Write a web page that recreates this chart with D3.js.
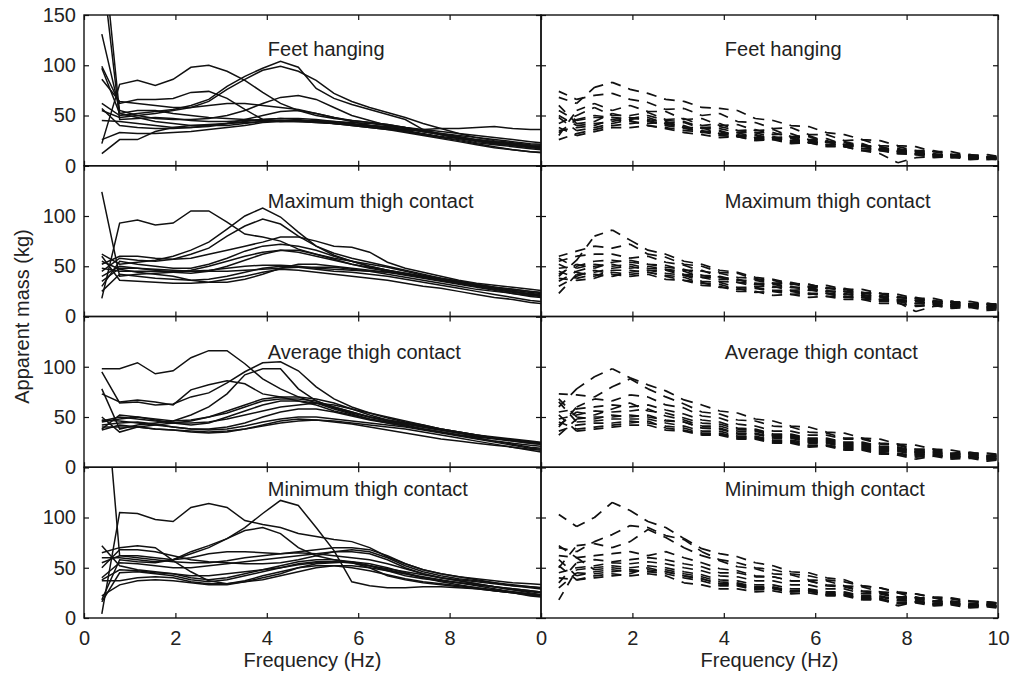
<!DOCTYPE html>
<html>
<head>
<meta charset="utf-8">
<script src="https://cdn.jsdelivr.net/npm/d3@7"></script>
<style>
  body { margin: 0; background: #fff; }
  text { font-family: "Liberation Sans", Arial, Helvetica, sans-serif; fill: #222; }
</style>
</head>
<body>
<script>
// frequency points (Hz), step 100/256
const freq = [0.39, 0.78, 1.17, 1.56, 1.95, 2.34, 2.73, 3.13, 3.52, 3.91, 4.30, 4.69, 5.08,
              5.47, 5.86, 6.25, 6.64, 7.03, 7.42, 7.81, 8.20, 8.59, 8.98, 9.38, 9.77, 10.16];

const conditions = ["Feet hanging", "Maximum thigh contact", "Average thigh contact", "Minimum thigh contact"];
const xTicks = [0, 2, 4, 6, 8, 10];
const yTicks = [0, 50, 100, 150];

// left column, solid lines (kg)
const feetSolid = [
  [230, 52, 55, 55, 52, 50, 48, 47, 46, 45, 44, 44, 43, 42, 41, 40, 38, 36, 34, 32, 30, 28, 26, 24, 22, 21],
  [200, 46, 47, 48, 47, 45, 44, 44, 45, 46, 47, 47, 46, 44, 42, 40, 38, 35, 32, 29, 27, 25, 23, 21, 19, 18],
  [22, 81, 85, 80, 86, 98, 100, 94, 85, 73, 62, 55, 50, 47, 45, 43, 41, 38, 34, 31, 28, 26, 24, 22, 20, 19],
  [62, 50, 52, 54, 56, 60, 66, 79, 89, 97, 104, 98, 77, 67, 61, 56, 51, 46, 36, 31, 27, 24, 22, 21, 19, 18],
  [55, 48, 50, 52, 55, 58, 64, 76, 86, 95, 99, 94, 85, 72, 64, 58, 53, 48, 42, 37, 32, 28, 25, 23, 21, 20],
  [99, 62, 66, 66, 67, 73, 74, 67, 56, 46, 44, 44, 45, 44, 43, 42, 40, 38, 35, 32, 29, 26, 24, 22, 20, 18],
  [86, 64, 62, 60, 58, 58, 60, 62, 62, 60, 58, 56, 52, 48, 45, 43, 41, 38, 36, 34, 32, 30, 28, 26, 24, 22],
  [131, 55, 50, 47, 46, 46, 47, 50, 55, 62, 68, 70, 66, 58, 50, 45, 40, 37, 34, 31, 28, 25, 23, 21, 19, 17],
  [26, 33, 32, 32, 33, 34, 36, 38, 40, 43, 44, 45, 44, 42, 40, 38, 36, 35, 36, 37, 37, 38, 39, 37, 36, 36],
  [12, 26, 26, 34, 38, 40, 41, 42, 43, 44, 45, 45, 44, 43, 41, 39, 37, 34, 31, 28, 25, 22, 19, 16, 14, 12],
  [57, 40, 38, 37, 37, 38, 40, 42, 44, 46, 47, 46, 44, 42, 40, 38, 36, 33, 30, 27, 24, 21, 18, 16, 14, 13],
  [45, 44, 42, 40, 38, 38, 39, 42, 46, 50, 54, 55, 52, 48, 44, 40, 37, 34, 31, 28, 26, 23, 21, 19, 17, 15],
  [97, 52, 48, 44, 42, 40, 40, 40, 42, 44, 45, 44, 43, 42, 41, 40, 39, 37, 34, 31, 28, 25, 22, 20, 18, 16]
];
const maxThighSolid = [
  [124, 40, 42, 43, 44, 46, 50, 55, 60, 64, 66, 64, 60, 56, 52, 49, 46, 43, 40, 37, 34, 31, 28, 25, 22, 20],
  [18, 93, 96, 91, 93, 105, 105, 94, 82, 79, 75, 67, 62, 58, 55, 52, 49, 45, 41, 38, 35, 32, 29, 26, 24, 22],
  [62, 52, 54, 56, 60, 66, 74, 87, 100, 108, 99, 84, 70, 61, 55, 50, 46, 42, 39, 36, 33, 30, 27, 24, 22, 20],
  [45, 58, 56, 55, 57, 62, 68, 80, 90, 97, 92, 80, 70, 63, 58, 54, 50, 46, 42, 38, 35, 32, 29, 27, 25, 23],
  [52, 60, 60, 58, 57, 58, 62, 66, 70, 74, 79, 79, 75, 70, 69, 64, 54, 48, 44, 40, 36, 33, 31, 29, 27, 25],
  [30, 55, 52, 50, 48, 48, 52, 58, 65, 70, 72, 70, 66, 60, 55, 50, 46, 43, 40, 37, 34, 31, 29, 27, 25, 23],
  [40, 50, 48, 46, 44, 43, 45, 50, 56, 62, 66, 66, 62, 57, 52, 48, 45, 42, 39, 36, 33, 30, 27, 25, 22, 20],
  [35, 48, 48, 47, 46, 45, 46, 48, 50, 51, 51, 50, 48, 47, 46, 45, 44, 41, 38, 35, 32, 29, 26, 23, 20, 18],
  [55, 47, 44, 42, 40, 36, 34, 34, 37, 42, 48, 52, 52, 50, 48, 46, 44, 42, 39, 36, 33, 30, 27, 25, 23, 21],
  [25, 42, 40, 38, 37, 36, 37, 40, 44, 48, 50, 49, 47, 45, 44, 42, 40, 37, 34, 31, 28, 25, 22, 19, 16, 14],
  [60, 36, 35, 34, 33, 33, 34, 37, 40, 44, 47, 46, 44, 42, 40, 38, 36, 33, 30, 28, 25, 22, 19, 17, 14, 12],
  [48, 45, 45, 45, 45, 45, 45, 45, 46, 47, 48, 49, 49, 49, 47, 45, 42, 39, 36, 33, 30, 27, 25, 23, 21, 19]
];
const avgThighSolid = [
  [98, 98, 104, 93, 96, 109, 116, 116, 103, 88, 78, 70, 64, 58, 53, 48, 44, 41, 38, 35, 32, 30, 28, 26, 24, 22],
  [95, 64, 65, 62, 63, 70, 74, 84, 95, 104, 105, 96, 80, 68, 60, 54, 49, 45, 42, 38, 35, 32, 29, 26, 24, 22],
  [78, 38, 42, 44, 46, 52, 60, 73, 92, 98, 98, 78, 66, 59, 54, 50, 46, 43, 40, 37, 34, 31, 29, 27, 25, 23],
  [73, 65, 67, 65, 62, 77, 82, 86, 83, 73, 70, 66, 62, 56, 52, 48, 45, 42, 38, 35, 32, 29, 26, 23, 20, 18],
  [50, 35, 40, 42, 44, 46, 50, 56, 62, 68, 70, 70, 68, 64, 58, 52, 47, 44, 40, 37, 34, 31, 29, 27, 25, 23],
  [45, 48, 50, 48, 46, 47, 50, 54, 60, 66, 68, 68, 66, 60, 55, 50, 47, 44, 41, 38, 35, 32, 30, 28, 26, 24],
  [38, 52, 50, 47, 44, 42, 44, 50, 56, 62, 66, 66, 64, 60, 55, 50, 46, 43, 40, 37, 34, 31, 29, 27, 25, 23],
  [42, 44, 45, 43, 40, 38, 38, 40, 44, 50, 55, 58, 58, 55, 51, 47, 44, 41, 38, 35, 32, 29, 26, 24, 22, 20],
  [47, 46, 44, 42, 40, 38, 37, 38, 41, 45, 48, 50, 50, 48, 46, 44, 42, 40, 37, 34, 31, 28, 25, 22, 19, 17],
  [40, 40, 40, 38, 37, 35, 34, 35, 38, 42, 46, 48, 47, 45, 43, 40, 37, 34, 31, 28, 26, 24, 22, 20, 18, 16],
  [37, 42, 40, 38, 37, 36, 35, 36, 38, 41, 44, 46, 47, 46, 44, 42, 40, 38, 35, 32, 29, 26, 23, 20, 17, 14],
  [46, 50, 48, 46, 44, 44, 45, 48, 52, 56, 60, 62, 64, 62, 58, 54, 50, 46, 42, 38, 35, 32, 29, 27, 25, 23]
];
const minThighSolid = [
  [270, 62, 60, 58, 56, 55, 55, 57, 60, 62, 64, 65, 64, 62, 60, 58, 54, 49, 44, 40, 37, 34, 31, 28, 25, 22],
  [4, 105, 104, 98, 96, 110, 114, 110, 97, 93, 90, 84, 81, 78, 76, 70, 61, 54, 48, 44, 41, 38, 35, 32, 30, 28],
  [18, 58, 56, 55, 58, 64, 70, 79, 90, 104, 117, 112, 90, 67, 36, 32, 30, 30, 31, 31, 30, 29, 27, 25, 23, 22],
  [60, 60, 58, 56, 58, 66, 72, 79, 87, 90, 84, 70, 62, 58, 55, 52, 49, 46, 43, 40, 37, 34, 31, 28, 26, 24],
  [65, 70, 72, 70, 57, 46, 37, 34, 36, 38, 42, 46, 50, 52, 52, 50, 47, 44, 41, 38, 35, 32, 29, 26, 24, 22],
  [50, 68, 68, 66, 62, 58, 56, 55, 54, 54, 55, 58, 62, 66, 68, 66, 60, 52, 46, 42, 39, 37, 35, 33, 31, 29],
  [55, 62, 62, 60, 58, 60, 64, 66, 66, 65, 64, 66, 68, 70, 70, 68, 62, 54, 48, 44, 41, 39, 37, 35, 34, 33],
  [40, 55, 54, 52, 50, 50, 52, 54, 56, 58, 60, 62, 64, 66, 66, 64, 58, 50, 44, 40, 38, 36, 34, 32, 31, 30],
  [38, 48, 47, 45, 44, 40, 38, 40, 44, 48, 52, 56, 58, 58, 56, 52, 47, 42, 39, 37, 35, 33, 31, 29, 27, 25],
  [16, 45, 46, 44, 42, 38, 36, 38, 42, 46, 50, 54, 56, 56, 55, 52, 48, 44, 40, 37, 35, 33, 31, 29, 27, 25],
  [37, 37, 40, 41, 40, 36, 34, 34, 37, 42, 46, 50, 52, 52, 50, 47, 43, 39, 36, 34, 32, 30, 28, 26, 24, 22],
  [22, 33, 37, 38, 37, 35, 33, 33, 36, 40, 44, 50, 54, 55, 56, 54, 50, 45, 40, 36, 33, 30, 27, 25, 22, 20],
  [72, 52, 48, 46, 44, 42, 42, 44, 46, 48, 50, 53, 55, 56, 55, 50, 42, 38, 35, 33, 31, 29, 27, 25, 23, 21]
];

// right column, dashed lines (kg)
const feetDashed = [
  [68, 62, 78, 83, 76, 72, 66, 64, 58, 57, 55, 47, 45, 40, 39, 33, 31, 26, 25, 20, 19, 14, 14, 10, 11, 8],
  [74, 66, 70, 72, 66, 63, 56, 57, 50, 52, 44, 43, 37, 38, 31, 31, 25, 26, 20, 19, 15, 15, 11, 11, 8, 9],
  [30, 55, 62, 55, 60, 54, 54, 46, 47, 40, 41, 35, 36, 29, 30, 24, 23, 19, 19, 15, 15, 11, 11, 8, 9, 6],
  [42, 50, 58, 50, 50, 53, 46, 47, 40, 42, 35, 36, 31, 32, 26, 27, 21, 22, 16, 16, 12, 11, 8, 9, 6, 7],
  [55, 45, 48, 48, 47, 50, 45, 44, 38, 39, 35, 33, 33, 28, 29, 23, 24, 20, 19, 14, 14, 11, 11, 8, 9, 6],
  [60, 42, 44, 52, 48, 46, 43, 43, 37, 37, 33, 33, 28, 29, 25, 25, 20, 20, 16, 14, 12, 10, 10, 7, 8, 6],
  [35, 38, 40, 46, 44, 42, 44, 38, 38, 32, 33, 28, 29, 25, 25, 21, 21, 17, 16, 12, 11, 8, 9, 6, 7, 5],
  [48, 35, 38, 42, 46, 48, 42, 40, 34, 35, 30, 31, 27, 28, 23, 24, 19, 20, 15, 15, 11, 12, 9, 9, 7, 7],
  [26, 32, 36, 40, 42, 44, 40, 37, 35, 31, 31, 27, 27, 23, 23, 19, 19, 15, 15, 12, 12, 9, 10, 7, 8, 6],
  [38, 30, 34, 38, 38, 40, 38, 35, 34, 30, 29, 25, 26, 22, 23, 20, 19, 15, 12, 3, 8, 9, 8, 8, 7, 7],
  [50, 40, 42, 44, 48, 45, 41, 39, 33, 34, 29, 30, 26, 27, 23, 24, 20, 21, 17, 17, 14, 14, 11, 11, 9, 9],
  [33, 46, 50, 48, 45, 40, 37, 33, 31, 28, 29, 26, 27, 24, 24, 21, 21, 17, 17, 13, 13, 10, 11, 8, 9, 7]
];
const maxThighDashed = [
  [40, 56, 80, 86, 76, 66, 62, 55, 52, 46, 44, 39, 37, 33, 32, 28, 27, 23, 23, 19, 18, 15, 15, 12, 12, 10],
  [60, 65, 70, 68, 72, 62, 59, 52, 50, 44, 43, 37, 36, 32, 32, 28, 28, 24, 23, 19, 19, 15, 15, 12, 13, 10],
  [55, 60, 62, 62, 58, 60, 54, 51, 45, 43, 39, 38, 33, 33, 29, 29, 25, 24, 20, 20, 16, 16, 12, 13, 10, 11],
  [48, 50, 55, 56, 54, 52, 51, 46, 46, 39, 37, 32, 32, 29, 28, 25, 25, 21, 20, 16, 16, 13, 14, 11, 12, 9],
  [35, 45, 50, 52, 48, 50, 47, 45, 39, 39, 34, 33, 29, 30, 26, 26, 22, 22, 17, 17, 13, 14, 11, 12, 9, 10],
  [23, 42, 44, 48, 50, 46, 46, 41, 39, 35, 34, 30, 30, 26, 27, 23, 23, 19, 19, 15, 15, 12, 13, 10, 11, 8],
  [45, 38, 42, 40, 44, 46, 43, 41, 35, 34, 29, 29, 26, 26, 23, 23, 20, 20, 16, 16, 13, 14, 10, 11, 8, 9],
  [52, 44, 40, 46, 46, 44, 41, 39, 33, 32, 27, 28, 25, 25, 22, 23, 19, 19, 15, 15, 11, 12, 9, 10, 7, 8],
  [38, 36, 38, 44, 42, 44, 40, 36, 34, 29, 28, 24, 25, 22, 23, 20, 20, 17, 17, 14, 5, 10, 11, 10, 9, 8],
  [30, 40, 46, 42, 40, 42, 37, 36, 31, 30, 25, 25, 21, 22, 19, 20, 17, 17, 13, 13, 10, 11, 8, 9, 6, 7],
  [58, 48, 52, 50, 52, 48, 47, 42, 41, 37, 37, 33, 33, 29, 29, 25, 25, 21, 21, 17, 18, 14, 15, 12, 13, 11],
  [42, 52, 48, 54, 56, 52, 49, 47, 41, 40, 36, 36, 33, 34, 30, 31, 27, 27, 23, 22, 18, 18, 14, 15, 12, 13]
];
const avgThighDashed = [
  [60, 78, 90, 98, 89, 82, 76, 67, 62, 56, 54, 48, 46, 41, 40, 35, 34, 29, 28, 23, 22, 18, 17, 14, 14, 12],
  [73, 72, 70, 80, 88, 78, 70, 63, 55, 53, 47, 46, 41, 40, 35, 34, 29, 29, 24, 23, 18, 18, 14, 15, 12, 13],
  [40, 60, 68, 66, 72, 70, 62, 59, 51, 49, 43, 41, 36, 36, 32, 32, 28, 28, 23, 22, 17, 17, 13, 14, 11, 12],
  [55, 58, 60, 62, 60, 62, 57, 53, 47, 45, 39, 38, 33, 33, 29, 29, 25, 25, 21, 20, 15, 15, 12, 13, 10, 11],
  [48, 52, 56, 55, 56, 58, 51, 47, 41, 41, 36, 36, 31, 31, 27, 27, 23, 23, 19, 19, 15, 15, 12, 13, 10, 11],
  [32, 48, 50, 50, 52, 50, 47, 45, 39, 38, 33, 33, 29, 29, 25, 25, 21, 21, 17, 17, 13, 13, 10, 11, 8, 9],
  [65, 45, 46, 48, 48, 48, 44, 41, 36, 36, 31, 31, 27, 27, 24, 24, 20, 20, 16, 16, 12, 13, 10, 11, 8, 9],
  [36, 42, 44, 44, 46, 44, 41, 39, 34, 34, 30, 30, 26, 26, 22, 22, 19, 19, 15, 12, 8, 11, 11, 10, 9, 8],
  [45, 38, 40, 42, 44, 46, 39, 37, 33, 33, 29, 29, 25, 25, 21, 22, 18, 18, 14, 14, 11, 12, 9, 10, 7, 8],
  [52, 36, 38, 40, 42, 42, 37, 36, 32, 32, 28, 28, 24, 24, 20, 21, 17, 17, 13, 13, 10, 11, 8, 9, 6, 8],
  [42, 55, 52, 58, 64, 56, 54, 49, 44, 43, 38, 37, 32, 32, 28, 28, 24, 24, 20, 20, 16, 16, 13, 14, 11, 12],
  [68, 50, 48, 52, 50, 52, 46, 45, 39, 39, 34, 34, 30, 30, 26, 26, 22, 22, 18, 18, 14, 14, 11, 12, 9, 10]
];
const minThighDashed = [
  [103, 91, 100, 115, 107, 96, 90, 79, 69, 64, 61, 55, 52, 46, 45, 40, 38, 32, 30, 25, 24, 20, 19, 16, 16, 14],
  [70, 66, 76, 83, 92, 90, 82, 78, 66, 58, 55, 50, 48, 44, 42, 38, 36, 32, 30, 26, 24, 21, 20, 17, 16, 14],
  [50, 72, 74, 70, 76, 88, 80, 70, 62, 57, 51, 49, 44, 43, 38, 37, 32, 31, 26, 25, 20, 20, 16, 17, 14, 15],
  [62, 60, 62, 64, 66, 62, 66, 60, 55, 49, 47, 42, 41, 37, 37, 33, 32, 27, 26, 21, 21, 17, 17, 14, 15, 12],
  [35, 55, 58, 56, 58, 60, 58, 54, 51, 45, 45, 41, 41, 37, 37, 32, 31, 26, 25, 20, 19, 16, 16, 13, 14, 11],
  [45, 50, 52, 55, 54, 56, 54, 50, 47, 42, 41, 37, 37, 33, 33, 29, 29, 24, 24, 20, 20, 16, 16, 12, 13, 10],
  [18, 48, 50, 52, 50, 52, 50, 46, 43, 38, 37, 33, 33, 29, 29, 26, 26, 22, 22, 18, 18, 14, 15, 12, 13, 10],
  [58, 42, 46, 48, 46, 48, 46, 42, 39, 34, 34, 30, 30, 26, 27, 24, 24, 20, 20, 12, 16, 14, 15, 12, 13, 10],
  [40, 38, 42, 44, 42, 44, 42, 35, 33, 29, 29, 26, 27, 24, 25, 22, 22, 18, 18, 14, 15, 12, 13, 10, 11, 9],
  [72, 60, 48, 50, 48, 46, 44, 40, 37, 32, 32, 28, 29, 26, 27, 23, 23, 19, 19, 15, 16, 13, 14, 11, 12, 10],
  [52, 38, 40, 42, 44, 50, 46, 42, 39, 34, 33, 29, 30, 27, 28, 25, 25, 21, 21, 17, 17, 14, 15, 12, 13, 11],
  [30, 45, 44, 46, 48, 46, 48, 44, 41, 36, 35, 31, 31, 27, 27, 23, 23, 19, 19, 15, 16, 13, 14, 11, 12, 10]
];

const solidSets = [feetSolid, maxThighSolid, avgThighSolid, minThighSolid];
const dashedSets = [feetDashed, maxThighDashed, avgThighDashed, minThighDashed];

// layout
const width = 1012, height = 687;
const cols = [[84, 541], [541, 998]];
const top0 = 15, rowH = 150.75;
const titleDy = [41, 42, 42, 29];
const fontSize = 20;

const svg = d3.select("body").append("svg")
    .attr("width", width)
    .attr("height", height);

conditions.forEach(function(cond, r) {
  const y0 = top0 + r * rowH, y1 = y0 + rowH;
  const y = d3.scaleLinear().domain([0, 150]).range([y1, y0]);

  [0, 1].forEach(function(c) {
    const x = d3.scaleLinear().domain([0, 10]).range(cols[c]);
    const id = "clip" + r + c;
    svg.append("clipPath").attr("id", id)
      .append("rect")
        .attr("x", x(0)).attr("y", y0)
        .attr("width", x(10) - x(0)).attr("height", y1 - y0);

    const g = svg.append("g");
    const line = d3.line().x(function(d) { return x(d[0]); }).y(function(d) { return y(d[1]); });
    const sets = c === 0 ? solidSets[r] : dashedSets[r];

    g.append("g").attr("clip-path", "url(#" + id + ")")
      .selectAll("path")
      .data(sets)
      .enter().append("path")
        .attr("fill", "none")
        .attr("stroke", "#111")
        .attr("stroke-width", c === 0 ? 1.5 : 1.7)
        .attr("stroke-dasharray", c === 0 ? null : "9,8")
        .attr("d", function(vals) {
          const pts = vals.map(function(v, i) { return [freq[i], v]; });
          if (c === 0) return line(pts);
          // dashed: each segment restarts the dash pattern
          return d3.pairs(pts).map(function(p) { return line(p); }).join("");
        });

    // axes, ticks inward
    const bottom = d3.axisBottom(x).tickValues(xTicks).tickSize(-5).tickPadding(13)
      .tickFormat(function(d) {
        if (r !== 3) return "";
        if (c === 0 && d === 10) return "";
        return d;
      });
    const topAx = d3.axisTop(x).tickValues(xTicks).tickSize(-5).tickFormat("");
    const left = d3.axisLeft(y).tickValues(yTicks).tickSize(-5).tickPadding(8)
      .tickFormat(function(d) {
        if (c !== 0) return "";
        if (r > 0 && d === 150) return "";
        return d;
      });
    const right = d3.axisRight(y).tickValues(yTicks).tickSize(-5).tickFormat("");

    [[bottom, "translate(0," + y1 + ")"], [topAx, "translate(0," + y0 + ")"],
     [left, "translate(" + x(0) + ",0)"], [right, "translate(" + x(10) + ",0)"]].forEach(function(a) {
      const ax = g.append("g").attr("transform", a[1]).call(a[0]);
      ax.select(".domain").remove();
      ax.selectAll("line").attr("stroke", "#111").attr("stroke-width", 1.2);
      ax.selectAll("text").attr("font-size", fontSize).attr("fill", "#222")
        .attr("font-family", "'Liberation Sans', Arial, sans-serif");
    });

    g.append("rect")
      .attr("x", x(0)).attr("y", y0)
      .attr("width", x(10) - x(0)).attr("height", y1 - y0)
      .attr("fill", "none").attr("stroke", "#111").attr("stroke-width", 1.4);

    g.append("text")
      .attr("x", x(4) + 1)
      .attr("y", y0 + titleDy[r])
      .attr("font-size", fontSize)
      .text(cond);

    if (r === 3) {
      g.append("text")
        .attr("x", (x(0) + x(10)) / 2)
        .attr("y", 667)
        .attr("text-anchor", "middle")
        .attr("font-size", fontSize)
        .text("Frequency (Hz)");
    }
  });
});

svg.append("text")
  .attr("transform", "translate(29," + (top0 + 2 * rowH) + ") rotate(-90)")
  .attr("text-anchor", "middle")
  .attr("font-size", fontSize)
  .text("Apparent mass (kg)");
</script>
</body>
</html>
